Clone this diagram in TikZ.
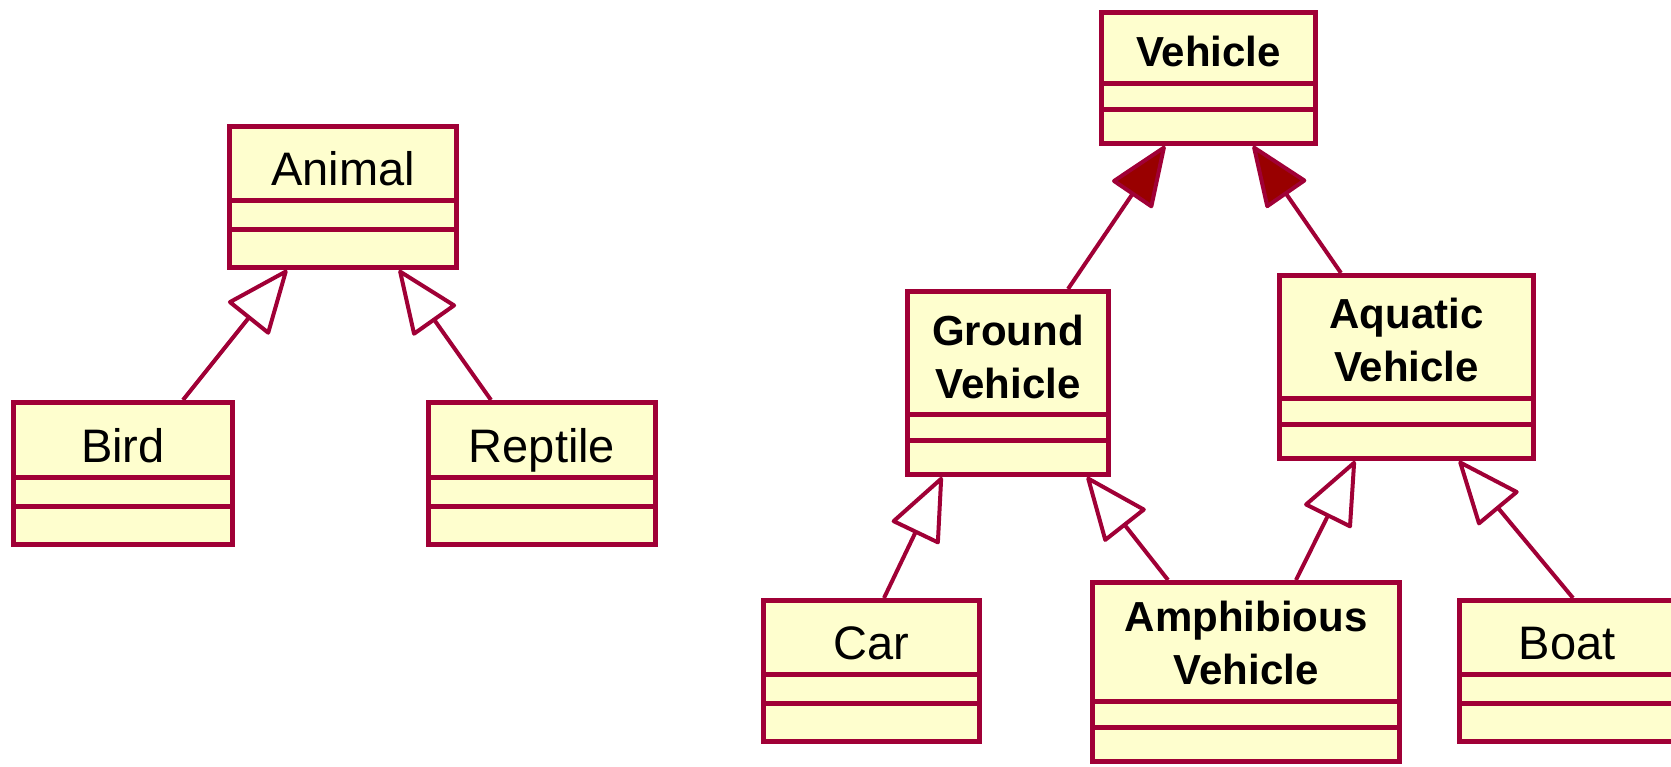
\documentclass[tikz,border=0pt]{standalone}
\usepackage{fontspec}
\setmainfont{Liberation Sans}
\usetikzlibrary{arrows.meta,calc}

\definecolor{umlborder}{HTML}{A00036}
\definecolor{umlfill}{HTML}{FEFECE}
\definecolor{umlhead}{HTML}{990000}

\tikzset{
    classbox/.style={draw=umlborder, fill=umlfill, line width=5pt, inner sep=0pt},
    sepline/.style={draw=umlborder, line width=5pt},
    regname/.style={font=\fontsize{47}{56}\selectfont, anchor=base, inner sep=0pt},
    boldname/.style={font=\fontsize{42}{53}\selectfont\bfseries, anchor=base, align=center, inner sep=0pt},
    inherit/.style={draw=umlborder, line width=4pt, -{Triangle[open, round, length=66pt, width=54pt, fill=white]}},
    extend/.style={draw=umlborder, line width=4pt, -{Triangle[round, length=63pt, width=50pt, fill=umlhead]}},
}

\begin{document}
\begin{tikzpicture}[x=1pt, y=-1pt]
    \useasboundingbox (0,0) rectangle (1671,766);

    % animals
    \node[classbox, minimum width=227pt, minimum height=141pt] (animal) at (343,197) {};
    \node[classbox, minimum width=219pt, minimum height=142pt] (bird) at (123,473.5) {};
    \node[classbox, minimum width=227pt, minimum height=142pt] (reptile) at (542,473.5) {};

    % vehicles
    \node[classbox, minimum width=214pt, minimum height=131pt] (vehicle) at (1208.5,78) {};
    \node[classbox, minimum width=201pt, minimum height=183pt] (ground) at (1008,383) {};
    \node[classbox, minimum width=254pt, minimum height=183pt] (aquatic) at (1406.5,367) {};
    \node[classbox, minimum width=216pt, minimum height=141pt] (car) at (871.5,671) {};
    \node[classbox, minimum width=307pt, minimum height=179pt] (amphibious) at (1246,672) {};
    \node[classbox, minimum width=215pt, minimum height=141pt] (boat) at (1567,671) {};

    \foreach \n in {animal,bird,reptile,car,boat}
        \foreach \d in {41,70}
            \draw[sepline] ($(\n.south west)+(0,-\d)$) -- ($(\n.south east)+(0,-\d)$);
    \foreach \n in {vehicle,ground,aquatic,amphibious}
        \foreach \d in {37,63}
            \draw[sepline] ($(\n.south west)+(0,-\d)$) -- ($(\n.south east)+(0,-\d)$);

    \node[regname] (animal-name) at ($(animal.north)+(0,61)$) {Animal};
    \node[regname] (bird-name) at ($(bird.north)+(0,62)$) {Bird};
    \node[regname] (reptile-name) at ($(reptile.north)+(0,62)$) {Reptile};
    \node[regname] (car-name) at ($(car.north)+(0,61)$) {Car};
    \node[regname] (boat-name) at ($(boat.north)+(0,61)$) {Boat};
    \node[boldname] (vehicle-name) at ($(vehicle.north)+(0,56)$) {Vehicle};
    % base of a two-line name is its last line
    \node[boldname] (ground-name) at ($(ground.north)+(0,109)$) {Ground\\Vehicle};
    \node[boldname] (aquatic-name) at ($(aquatic.north)+(0,108)$) {Aquatic\\Vehicle};
    \node[boldname] (amphibious-name) at ($(amphibious.north)+(0,104)$) {Amphibious\\Vehicle};

    % generalisations
    \draw[inherit] ($(bird.north)+(60,0)$) -- ($(animal.south)+(-56,0)$);
    \draw[inherit] ($(reptile.north)+(-51,0)$) -- ($(animal.south)+(56,0)$);
    \draw[extend] ($(ground.north)+(60,0)$) -- ($(vehicle.south)+(-43.5,0)$);
    \draw[extend] ($(aquatic.north)+(-65.5,0)$) -- ($(vehicle.south)+(44.5,0)$);
    \draw[inherit] ($(car.north)+(12.5,0)$) -- ($(ground.south)+(-66,0)$);
    \draw[inherit] ($(amphibious.north)+(-78,0)$) -- ($(ground.south)+(79,0)$);
    \draw[inherit] ($(amphibious.north)+(50,0)$) -- ($(aquatic.south)+(-51.5,0)$);
    \draw[inherit] ($(boat.north)+(6,0)$) -- ($(aquatic.south)+(52.5,0)$);
\end{tikzpicture}
\end{document}
